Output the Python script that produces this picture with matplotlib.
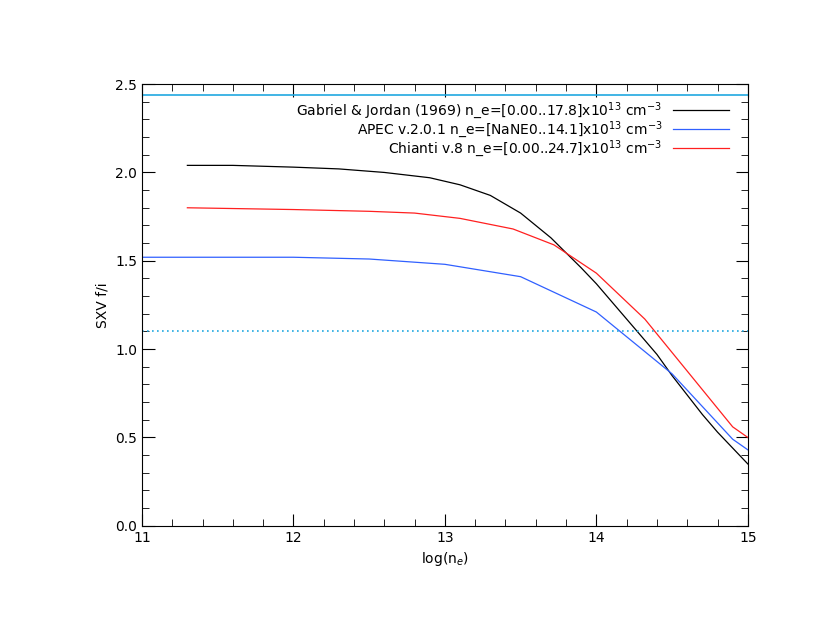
import matplotlib
matplotlib.use("Agg")
import matplotlib.pyplot as plt
from matplotlib.ticker import MultipleLocator

gj_x = [11.3, 11.6, 12.0, 12.3, 12.6, 12.9, 13.1, 13.3, 13.5, 13.7, 13.9, 14.0, 14.1, 14.2, 14.3, 14.4, 14.5, 14.6, 14.7, 14.8, 14.9, 15.0]
gj_y = [2.04, 2.04, 2.03, 2.02, 2.00, 1.97, 1.93, 1.87, 1.77, 1.63, 1.46, 1.37, 1.27, 1.17, 1.07, 0.97, 0.85, 0.74, 0.63, 0.53, 0.44, 0.35]
apec_x = [11.0, 12.0, 12.5, 13.0, 13.5, 14.0, 14.5, 14.9, 15.0]
apec_y = [1.52, 1.52, 1.51, 1.48, 1.41, 1.21, 0.86, 0.49, 0.43]
chi_x = [11.3, 12.0, 12.5, 12.8, 13.1, 13.45, 13.72, 14.0, 14.32, 14.9, 15.0]
chi_y = [1.80, 1.79, 1.78, 1.77, 1.74, 1.68, 1.59, 1.43, 1.17, 0.56, 0.50]
upper_limit = 2.44
lower_limit = 1.10
labels = ["Gabriel & Jordan (1969) n_e=[0.00..17.8]x10$^{13}$ cm$^{-3}$",
          "APEC v.2.0.1 n_e=[NaNE0..14.1]x10$^{13}$ cm$^{-3}$",
          "Chianti v.8 n_e=[0.00..24.7]x10$^{13}$ cm$^{-3}$"]

fig = plt.figure(figsize=(8.3, 6.42), dpi=100)
ax = fig.add_axes([0.171, 0.181, 0.730, 0.688])
l1, = ax.plot(gj_x, gj_y, color="black", lw=0.9)
l2, = ax.plot(apec_x, apec_y, color="#3060ff", lw=0.9)
l3, = ax.plot(chi_x, chi_y, color="#ff2020", lw=0.9)
ax.axhline(upper_limit, color="#20a8e0", lw=1.2)
ax.axhline(lower_limit, color="#20a8e0", lw=1.2, ls=(0, (1, 2)))
ax.set_xlim(11, 15)
ax.set_ylim(0, 2.5)
ax.xaxis.set_major_locator(MultipleLocator(1))
ax.xaxis.set_minor_locator(MultipleLocator(0.2))
ax.yaxis.set_major_locator(MultipleLocator(0.5))
ax.yaxis.set_minor_locator(MultipleLocator(0.1))
ax.tick_params(which="both", direction="in", top=True, right=True, labelsize=10)
ax.tick_params(which="major", length=9)
ax.tick_params(which="minor", length=5)
ax.set_yticklabels([f"{v:.1f}" for v in ax.get_yticks()])
ax.set_xlabel("log(n$_e$)", fontsize=10)
ax.set_ylabel("SXV f/i", fontsize=10)
for s in ax.spines.values():
    s.set_linewidth(0.8)
leg = ax.legend([l1, l2, l3], labels, loc="upper right", bbox_to_anchor=(0.985, 0.985),
                frameon=False, fontsize=10, markerfirst=False, handlelength=4,
                labelspacing=-0.15, handletextpad=0.8, borderpad=0.2)
for t in leg.get_texts():
    t.set_ha("right")
fig.savefig("out.png", dpi=100)
